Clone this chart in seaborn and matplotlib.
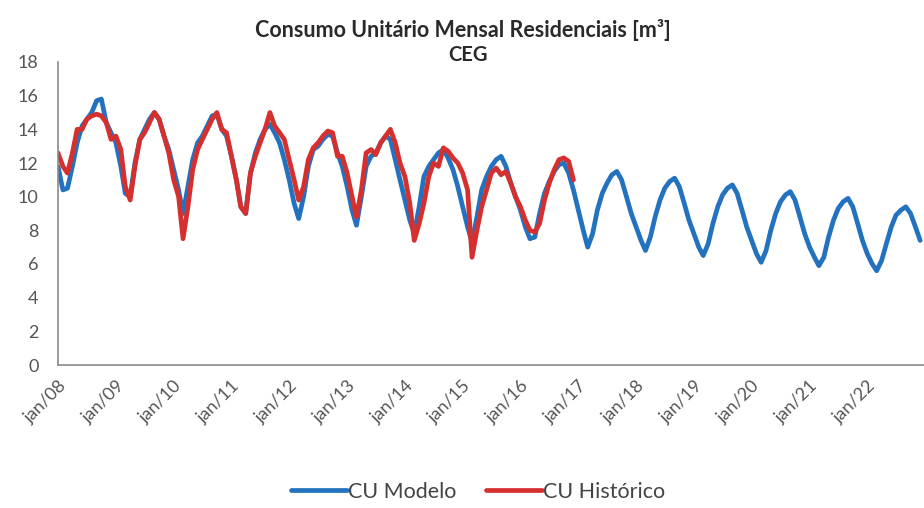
import pandas as pd
import matplotlib
matplotlib.use("Agg")
from matplotlib import pyplot as plt
import seaborn as sns

# CU Modelo (blue), monthly values jan..dez for each year
modelo_2008 = [11.8, 10.4, 10.5, 11.8, 13.2, 14.2, 14.6, 15.0, 15.7, 15.8, 14.4, 13.8]
modelo_2009 = [13.2, 11.8, 10.2, 10.0, 12.0, 13.4, 14.0, 14.6, 15.0, 14.6, 13.6, 12.8]
modelo_2010 = [11.6, 10.4, 9.0, 10.6, 12.2, 13.2, 13.6, 14.2, 14.8, 14.9, 14.0, 13.6]
modelo_2011 = [12.4, 11.0, 9.4, 9.0, 11.4, 12.6, 13.4, 14.0, 14.3, 13.8, 13.2, 12.2]
modelo_2012 = [11.0, 9.6, 8.7, 10.0, 11.8, 12.8, 13.0, 13.4, 13.7, 13.6, 12.6, 11.8]
modelo_2013 = [10.6, 9.2, 8.3, 10.0, 11.8, 12.4, 12.6, 13.2, 13.6, 13.4, 12.2, 11.0]
modelo_2014 = [9.8, 8.6, 7.8, 9.4, 11.2, 11.8, 12.2, 12.6, 12.8, 12.3, 11.6, 10.6]
modelo_2015 = [9.4, 8.2, 7.3, 8.8, 10.4, 11.2, 11.8, 12.2, 12.4, 11.8, 10.8, 10.0]
modelo_2016 = [9.2, 8.2, 7.5, 7.6, 9.0, 10.2, 10.9, 11.5, 11.9, 12.0, 11.4, 10.4]
modelo_2017 = [9.2, 8.0, 7.0, 7.8, 9.2, 10.2, 10.8, 11.3, 11.5, 11.0, 10.0, 9.0]
modelo_2018 = [8.2, 7.4, 6.8, 7.6, 8.8, 9.8, 10.5, 10.9, 11.1, 10.6, 9.6, 8.6]
modelo_2019 = [7.8, 7.0, 6.5, 7.2, 8.4, 9.4, 10.1, 10.5, 10.7, 10.2, 9.2, 8.2]
modelo_2020 = [7.4, 6.6, 6.1, 6.8, 8.0, 9.0, 9.7, 10.1, 10.3, 9.8, 8.8, 7.8]
modelo_2021 = [7.0, 6.4, 5.9, 6.4, 7.6, 8.6, 9.3, 9.7, 9.9, 9.4, 8.4, 7.4]
modelo_2022 = [6.6, 6.0, 5.6, 6.2, 7.2, 8.2, 8.9, 9.2, 9.4, 9.0, 8.2, 7.4]

# CU Historico (red), jan/08 .. dez/16
historico_2008 = [12.6, 11.8, 11.4, 12.6, 14.0, 14.0, 14.6, 14.8, 14.9, 14.8, 14.4, 13.4]
historico_2009 = [13.6, 12.8, 10.6, 9.8, 11.8, 13.4, 13.8, 14.4, 15.0, 14.6, 13.6, 12.6]
historico_2010 = [11.0, 10.0, 7.5, 9.4, 11.6, 12.8, 13.4, 14.0, 14.6, 15.0, 14.0, 13.8]
historico_2011 = [12.4, 11.0, 9.4, 9.0, 11.4, 12.4, 13.2, 14.0, 15.0, 14.2, 13.8, 13.4]
historico_2012 = [12.2, 11.0, 9.8, 10.6, 12.2, 12.9, 13.2, 13.6, 13.9, 13.8, 12.4, 12.4]
historico_2013 = [11.4, 10.0, 8.8, 10.4, 12.6, 12.8, 12.5, 13.2, 13.6, 14.0, 13.2, 12.0]
historico_2014 = [11.2, 9.6, 7.4, 8.4, 9.6, 11.2, 12.0, 11.8, 12.9, 12.7, 12.3, 12.0]
historico_2015 = [11.4, 10.4, 6.4, 8.0, 9.4, 10.4, 11.4, 11.7, 11.3, 11.5, 10.8, 10.0]
historico_2016 = [9.4, 8.6, 8.0, 7.9, 8.4, 9.8, 10.8, 11.6, 12.2, 12.3, 12.1, 11.0]

anos = list(range(2008, 2023))
tick_labels = ["jan/%02d" % (a % 100) for a in anos]

modelo = (modelo_2008 + modelo_2009 + modelo_2010 + modelo_2011 + modelo_2012
          + modelo_2013 + modelo_2014 + modelo_2015 + modelo_2016 + modelo_2017
          + modelo_2018 + modelo_2019 + modelo_2020 + modelo_2021 + modelo_2022)
historico = (historico_2008 + historico_2009 + historico_2010 + historico_2011
             + historico_2012 + historico_2013 + historico_2014 + historico_2015
             + historico_2016)

meses_modelo = pd.date_range("2008-01-01", periods=len(modelo), freq="MS")
meses_hist = pd.date_range("2008-01-01", periods=len(historico), freq="MS")

df = pd.concat([
    pd.DataFrame({"mes": meses_modelo, "cu": modelo, "serie": "CU Modelo"}),
    pd.DataFrame({"mes": meses_hist, "cu": historico, "serie": "CU Histórico"}),
], ignore_index=True)

sns.set_style("white")
plt.rcParams['font.family'] = ['Lato', 'DejaVu Sans']

fig = plt.figure(figsize=(9.24, 5.08), dpi=100)
ax = fig.add_axes([58 / 924, 143 / 508, (924 - 58) / 924, 303 / 508])

sns.lineplot(data=df, x="mes", y="cu", hue="serie",
             palette={"CU Modelo": "#2372c0", "CU Histórico": "#d6302e"},
             linewidth=3.4, ax=ax, legend=True)

ax.set_ylim(0, 18)
ax.set_yticks(range(0, 19, 2))
ax.set_xlim(pd.Timestamp("2008-01-01"), pd.Timestamp("2022-12-25"))
ticks = [pd.Timestamp(f"{a}-01-01") for a in anos]
ax.set_xticks(ticks)
ax.set_xticklabels(tick_labels, rotation=45, ha="right", rotation_mode="anchor")
ax.set_xlabel("")
ax.set_ylabel("")

for s in ["top", "right"]:
    ax.spines[s].set_visible(False)
for s in ["left", "bottom"]:
    ax.spines[s].set_color("#8a8a8a")
    ax.spines[s].set_linewidth(1.2)
ax.tick_params(axis="both", direction="out", length=5, width=1, color="#8a8a8a",
               labelcolor="#555555")
ax.tick_params(axis="y", labelsize=13, pad=9)
ax.tick_params(axis="x", labelsize=13, pad=4)

fig.text(463 / 924, 1 - 30 / 508, "Consumo Unitário Mensal Residenciais [m³]",
         ha="center", va="center", fontsize=15.5, fontweight="bold", color="#2a2a2a")
fig.text(468 / 924, 1 - 55 / 508, "CEG",
         ha="center", va="center", fontsize=14.5, fontweight="bold", color="#2a2a2a")

handles, labels = ax.get_legend_handles_labels()
ax.get_legend().remove()
fig.legend(handles, labels, loc="center", bbox_to_anchor=(478 / 924, 1 - 492 / 508),
           ncol=2, frameon=False, fontsize=15.5, handlelength=2.6, handletextpad=0.05,
           columnspacing=1.4, labelcolor="#444444", borderpad=0.2)

fig.savefig("out.png", dpi=100)
